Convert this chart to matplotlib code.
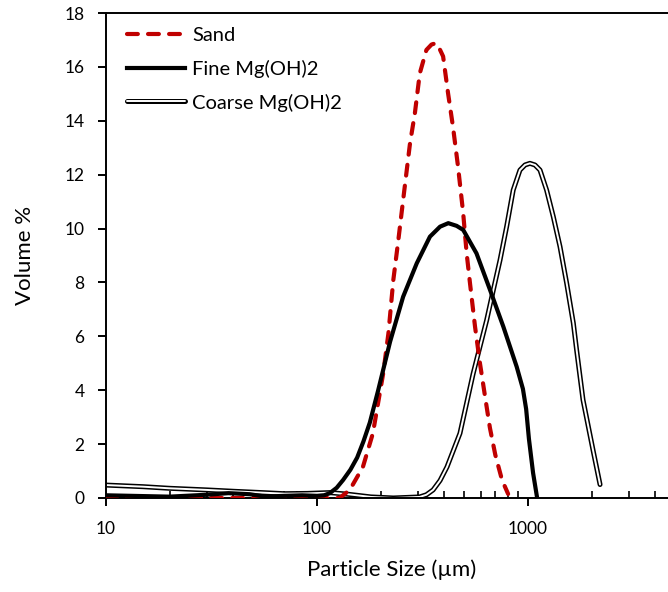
import numpy as np
import matplotlib
matplotlib.use("Agg")
import matplotlib.pyplot as plt
from matplotlib.lines import Line2D
from matplotlib.legend_handler import HandlerTuple

plt.rcParams['font.family'] = ['Lato', 'DejaVu Sans']

# particle size distributions (size in um, volume %)
sand_x = [10, 20, 40, 80, 128, 143, 165, 184, 206, 218, 230, 243, 256, 276, 291,
          307, 330, 349, 366, 380, 396, 418, 441, 466, 493, 512, 531, 561, 592,
          626, 660, 700, 753, 805]
sand_y = [0, 0, 0, 0, 0, 0.3, 1.15, 2.4, 4.63, 6.11, 8.09, 9.58, 11.06, 13.17, 14.28,
          15.76, 16.63, 16.83, 16.88, 16.69, 16.39, 15.02, 13.78, 12.3, 10.57, 9.08,
          7.97, 6.36, 5.0, 3.76, 2.6, 1.6, 0.67, 0.15]

fine_x = [10, 20, 30, 38, 48, 57, 70, 85, 100, 108, 115, 124, 133, 144, 155, 166,
          178, 195, 222, 256, 297, 343, 383, 419, 459, 493, 570, 661, 764, 884, 946,
          980, 1010, 1057, 1104]
fine_y = [0.1, 0.05, 0.12, 0.18, 0.14, 0.05, 0.08, 0.1, 0.08, 0.1, 0.18, 0.38, 0.67,
          1.05, 1.5, 2.1, 2.8, 4.0, 5.8, 7.47, 8.71, 9.7, 10.07, 10.2, 10.1, 9.95,
          9.08, 7.72, 6.36, 4.87, 4.05, 3.3, 2.2, 0.93, 0.02]

coarse_x = [10, 15, 20, 30, 40, 55, 70, 90, 115, 140, 180, 230, 307, 330, 355, 383,
            413, 476, 549, 592, 637, 685, 737, 792, 851, 916, 968, 1021, 1079, 1140,
            1225, 1318, 1418, 1525, 1640, 1700, 1823, 2033, 2195]
coarse_y = [0.48, 0.42, 0.36, 0.3, 0.25, 0.2, 0.16, 0.17, 0.2, 0.14, 0.04, 0.0, 0.04,
            0.12, 0.3, 0.65, 1.15, 2.4, 4.6, 5.62, 6.6, 7.72, 8.83, 10.07, 11.43,
            12.17, 12.36, 12.42, 12.36, 12.17, 11.43, 10.44, 9.33, 7.97, 6.49, 5.49,
            3.64, 1.78, 0.5]

fig = plt.figure(figsize=(6.68, 5.92), dpi=100)
ax = fig.add_axes([106 / 668, 1 - 498 / 592, 562 / 668, 485 / 592])

ax.plot(sand_x, sand_y, color='#c00000', lw=3, dashes=(2.6, 2.45),
        dash_capstyle='round', zorder=3)
ax.plot(fine_x, fine_y, color='black', lw=3, solid_capstyle='butt',
        solid_joinstyle='round', zorder=4)
ax.plot(coarse_x, coarse_y, color='black', lw=3.6, solid_capstyle='round',
        solid_joinstyle='round', zorder=2)
ax.plot(coarse_x, coarse_y, color='white', lw=1.4, solid_capstyle='round',
        solid_joinstyle='round', zorder=2)

ax.set_xscale('log')
ax.set_xlim(10, 4608)
ax.set_ylim(0, 18)
ax.set_yticks(range(0, 19, 2))
ax.set_xticks([10, 100, 1000])
ax.set_xticklabels(['10', '100', '1000'])

for s in ['left', 'bottom', 'top']:
    ax.spines[s].set_linewidth(1.4)
ax.spines['right'].set_visible(False)
ax.tick_params(axis='both', which='major', direction='out', length=5.5, width=1.4,
               labelsize=12.5)
ax.tick_params(axis='y', which='major', pad=10)
ax.tick_params(axis='x', which='major', pad=11)
ax.tick_params(axis='x', which='minor', direction='in', length=5, width=1.2)
ax.tick_params(top=False)

ax.set_xlabel('Particle Size (µm)', fontsize=16)
ax.xaxis.set_label_coords(0.509, -0.127)
ax.set_ylabel('Volume %', fontsize=16, labelpad=21)

h_sand = Line2D([], [], color='#c00000', lw=3, dashes=(2.6, 2.45), dash_capstyle='round')
h_fine = Line2D([], [], color='black', lw=3)
h_c1 = Line2D([], [], color='black', lw=3.6, solid_capstyle='round')
h_c2 = Line2D([], [], color='white', lw=1.4, solid_capstyle='round')
ax.legend([h_sand, h_fine, (h_c1, h_c2)], ['Sand', 'Fine Mg(OH)2', 'Coarse Mg(OH)2'],
          handler_map={tuple: HandlerTuple(ndivide=1)}, loc='upper left',
          bbox_to_anchor=(0.023, 0.988), frameon=False, fontsize=14.5,
          handlelength=2.9, handletextpad=0.35, labelspacing=0.78, borderaxespad=0.0)

fig.savefig('out.png', dpi=100)
